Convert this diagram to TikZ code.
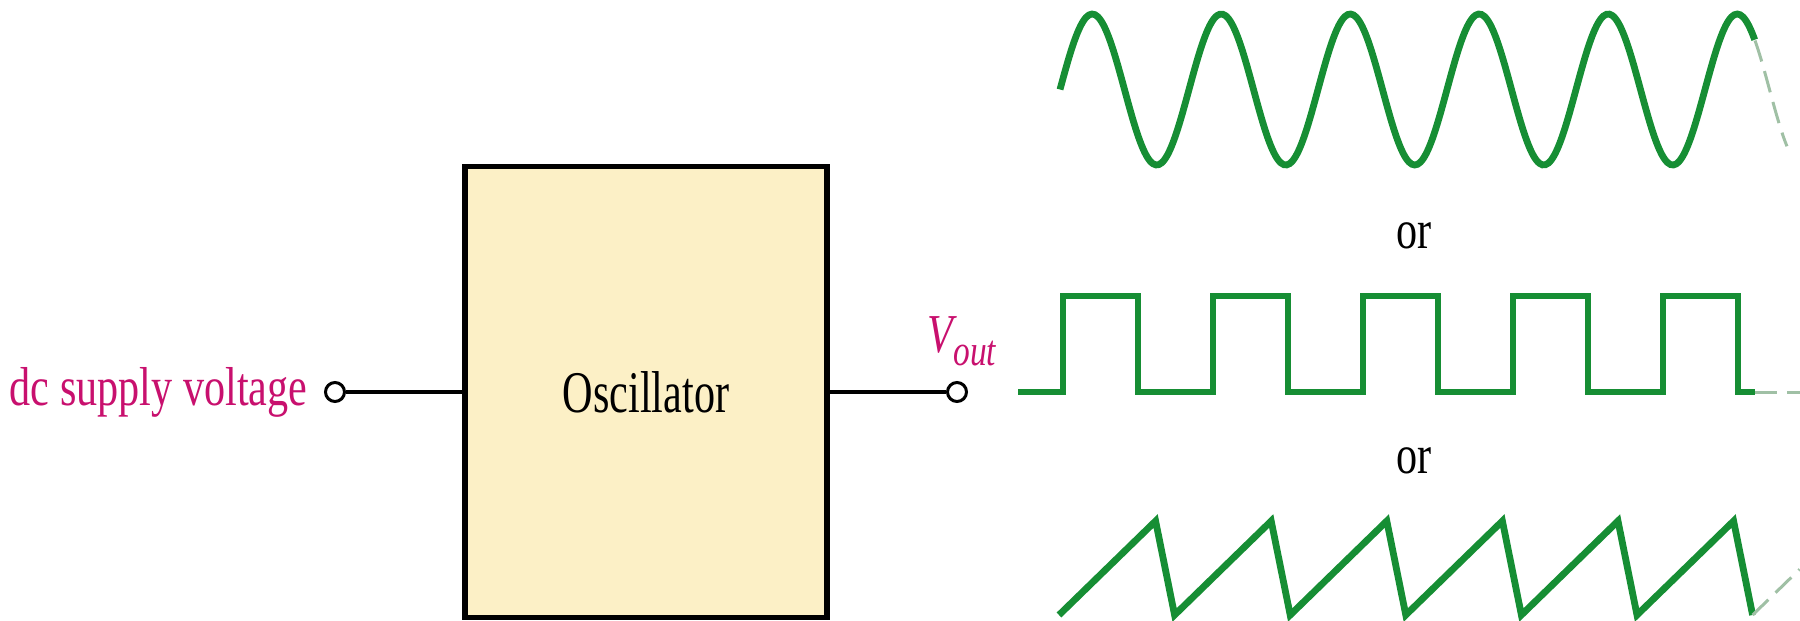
\documentclass[tikz,border=0pt]{standalone}
\usepackage{fontspec}
\setmainfont{Liberation Serif}
\usepackage{graphicx}
\usetikzlibrary{positioning}

\definecolor{sigGreen}{RGB}{22,142,52}
\definecolor{labelRed}{RGB}{200,16,110}
\definecolor{boxFill}{RGB}{252,240,198}
\definecolor{fadeGreen}{RGB}{160,192,165}

\newcommand{\tall}[1]{\scalebox{1}[1.3]{#1}}

\begin{document}
\begin{tikzpicture}[
    block/.style={draw=black, line width=0.055cm, fill=boxFill, minimum width=3.62cm, minimum height=4.51cm, inner sep=0pt}, % Style for the oscillator box
    pin/.style={draw=black, line width=0.03cm, fill=white, circle, minimum size=0.19cm, inner sep=0pt}, % Style for the terminals
    wire/.style={black, line width=0.032cm}, % Style for the leads
    wave/.style={sigGreen, line width=0.068cm}, % Style for the output waveforms
    more/.style={fadeGreen, line width=0.03cm, dash pattern=on 0.22cm off 0.1cm}, % Waveform continues
    labelstyle/.style={labelRed, font=\fontsize{12}{14}\selectfont, inner sep=0pt}, % Style for labels
    orstyle/.style={black, font=\fontsize{12}{14}\selectfont, inner sep=0pt}
]

    \useasboundingbox (0,0) rectangle (18,6.2);

    % Oscillator block and its terminals
    \node (osc) [block] at (6.46, 2.28) {\fontsize{12}{14}\selectfont\scalebox{1}[1.4]{Oscillator}};
    \node (inpin) [pin] at (3.35, 2.28) {};
    \node (outpin) [pin] at (9.57, 2.28) {};

    \draw[wire] (inpin) -- (osc);
    \draw[wire] (osc) -- (outpin);

    % Labels
    \node (dclabel) [labelstyle, anchor=base east] at (3.08, 2.15) {\tall{dc supply voltage}};
    \node (vout) [labelstyle, anchor=base west] at (9.27, 2.68) {\tall{\itshape V\raisebox{-2.85pt}{\fontsize{9.5}{10}\selectfont out}}};

    \node (or1) [orstyle, anchor=base] at (14.14, 3.72) {\tall{or}};
    \node (or2) [orstyle, anchor=base] at (14.14, 1.47) {\tall{or}};

    % Sine output
    \draw[wave, domain=0:6.95, samples=240, smooth] plot ({10.60+\x}, {5.305+0.755*sin(360*\x/1.29)});
    \draw[more, domain=6.95:7.27, samples=20, smooth] plot ({10.60+\x}, {5.305+0.755*sin(360*\x/1.29)});

    % Square output
    \draw[wave] (10.18,2.28) \foreach \k in {0,...,4} { -- ({10.63+1.5*\k},2.28) -- ++(0,0.96) -- ++(0.75,0) -- ++(0,-0.96) } -- (17.55,2.28) coordinate (sqend);
    \draw[more] (sqend) -- (18.0,2.28);

    % Sawtooth output
    \draw[wave] (10.59,0.05) \foreach \k in {0,...,5} { -- ++(0.966,0.94) -- ++(0.19,-0.94) } coordinate (sawend);
    \draw[more] (sawend) -- ++(0.47,0.457);

\end{tikzpicture}
\end{document}
